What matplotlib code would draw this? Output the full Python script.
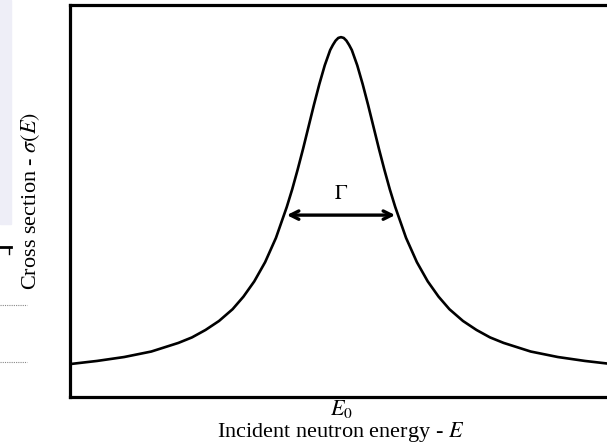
import matplotlib
matplotlib.use("Agg")
import matplotlib.pyplot as plt
from matplotlib.patches import Rectangle
from matplotlib.lines import Line2D

# resonance curve (arbitrary units)
energy = [0.0, 0.5, 1.0, 1.5, 2.0, 2.25, 2.5, 2.75, 3.0, 3.2, 3.4, 3.6, 3.8,
          4.0, 4.1, 4.2, 4.3, 4.4, 4.5, 4.6, 4.7, 4.8, 4.85, 4.9, 4.95, 5.0,
          5.05, 5.1, 5.15, 5.2, 5.3, 5.4, 5.5, 5.6, 5.7, 5.8, 5.9, 6.0,
          6.2, 6.4, 6.6, 6.8, 7.0, 7.25, 7.5, 7.75, 8.0, 8.5, 9.0, 9.5, 10.0]
sigma = [0.084, 0.092, 0.102, 0.116, 0.138, 0.152, 0.171, 0.194, 0.224, 0.256, 0.295, 0.344, 0.406,
         0.485, 0.530, 0.580, 0.633, 0.689, 0.745, 0.798, 0.846, 0.885, 0.898, 0.909, 0.916, 0.918,
         0.916, 0.909, 0.898, 0.885, 0.846, 0.798, 0.745, 0.689, 0.633, 0.580, 0.530, 0.485,
         0.406, 0.344, 0.295, 0.256, 0.224, 0.194, 0.171, 0.152, 0.138, 0.116, 0.102, 0.092, 0.084]

E0 = 5.0
gamma_left = 4.0
gamma_right = 6.0
half_height = 0.464

serif = ['Liberation Serif', 'DejaVu Serif']
plt.rcParams['mathtext.fontset'] = 'stix'
plt.rcParams['font.family'] = serif

fig = plt.figure(figsize=(6.07, 4.46), dpi=100)
ax = fig.add_axes([70 / 607, 49 / 446, 542 / 607, 392 / 446])

ax.plot(energy, sigma, color='black', lw=1.9)
ax.annotate('', xy=(gamma_left, half_height), xytext=(gamma_right, half_height),
            arrowprops=dict(arrowstyle='<->', color='black', lw=2.4,
                            shrinkA=0, shrinkB=0, mutation_scale=15))
ax.text(E0, half_height + 0.028, r'$\Gamma$', ha='center', va='bottom', fontsize=15)

ax.set_xlim(0, 10)
ax.set_ylim(0, 1)
ax.set_xticks([E0])
ax.set_xticklabels([r'$E_0$'], fontsize=16)
ax.set_yticks([])
ax.tick_params(axis='x', length=0, pad=1)
for s in ax.spines.values():
    s.set_linewidth(2.3)
ax.set_xlabel(r'Incident neutron energy - $E$', fontsize=16, labelpad=0)
ax.set_ylabel(r'Cross section - $\sigma(E)$', fontsize=16, labelpad=20)

# bits of the surrounding page caught in the screenshot
fig.patches.append(Rectangle((0, 1 - 224 / 446), 11 / 607, 224 / 446,
                             transform=fig.transFigure, color='#eeeef7', zorder=0))
fig.lines.append(Line2D([0, 11 / 607], [1 - 247 / 446] * 2, transform=fig.transFigure,
                        color='black', lw=2))
fig.lines.append(Line2D([9 / 607, 9 / 607], [1 - 247 / 446, 1 - 254 / 446],
                        transform=fig.transFigure, color='black', lw=1))
for yy in [305, 362]:
    fig.lines.append(Line2D([0, 27 / 607], [1 - yy / 446] * 2, transform=fig.transFigure,
                            color='#888888', lw=0.8, ls=(0, (1, 1))))

fig.savefig('out.png', dpi=100)
